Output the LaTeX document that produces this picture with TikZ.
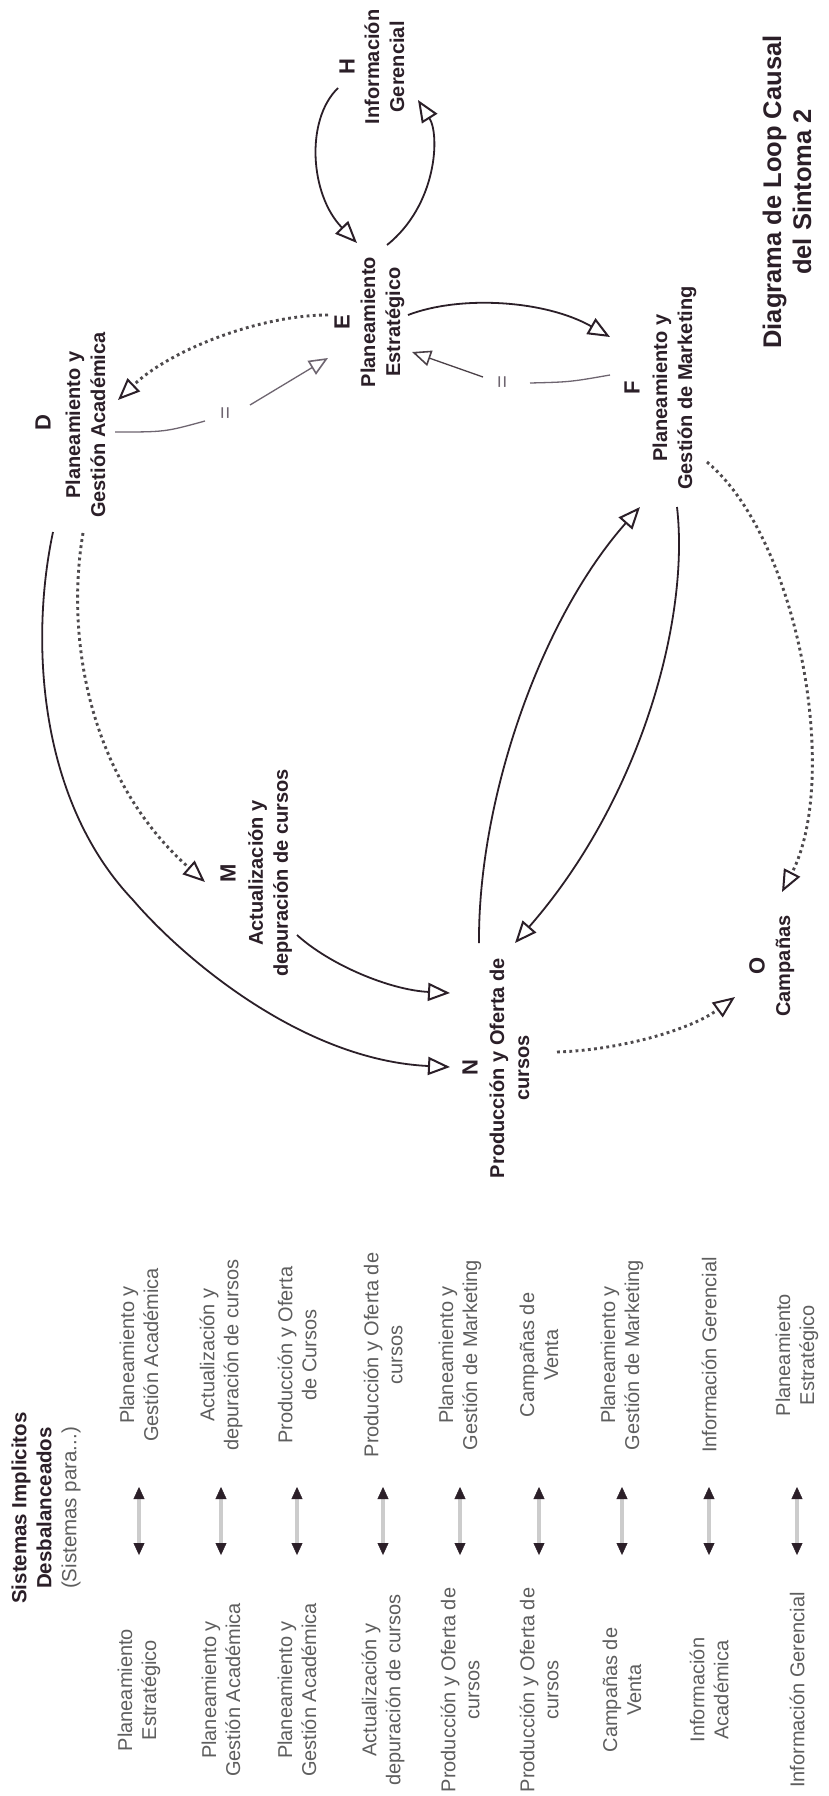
\documentclass[tikz,border=0pt]{standalone}
\usepackage{fontspec}
\setmainfont{Liberation Sans}
\usetikzlibrary{arrows.meta,calc}
\definecolor{ink}{HTML}{2B1F28}
\definecolor{tabgray}{HTML}{5E5E5E}
\definecolor{dotgray}{HTML}{4E4A4D}
\definecolor{thingray}{HTML}{6E6570}
\begin{document}
\begin{tikzpicture}[x=1pt,y=-1pt,
  lbl/.style={rotate=90,align=center,text=ink,inner sep=0pt,font=\fontsize{20}{25}\selectfont\bfseries},
  ltr/.style={rotate=90,text=ink,inner sep=0pt,font=\fontsize{22}{25}\selectfont\bfseries},
  tab/.style={rotate=90,align=center,text=tabgray,inner sep=0pt,font=\fontsize{20}{24}\selectfont},
  opentip/.style={-{Triangle[open,length=22pt,width=18pt,line width=2pt,color=ink]}},
  link/.style={draw=ink,line width=1.8pt,opentip},
  delay/.style={draw=thingray,line width=1.3pt},
  delayarr/.style={delay,-{Triangle[open,length=19pt,width=16pt,line width=1.6pt]}},
  dots/.style={draw=dotgray,line width=2.9pt,dash pattern=on 2.8pt off 3.4pt,opentip},
  delaymark/.style={rotate=90,text=thingray,inner sep=0pt,font=\fontsize{22}{22}\selectfont},
  twoway/.style={draw=gray!40,line width=3.2pt,
    {Triangle[length=12pt,width=11pt,color=ink,line width=0.4pt]}-{Triangle[length=12pt,width=11pt,color=ink,line width=0.4pt]}}
]
% canvas
\fill[white] (0,0) rectangle (829,1796);
\path[use as bounding box] (0,0) rectangle (829,1796);

% title
\node[rotate=90,align=center,text=ink,inner sep=0pt,font=\fontsize{25.5}{30}\selectfont\bfseries]
  (title) at (787,192) {Diagrama de Loop Causal\\del Sintoma 2};

% variables of the causal loop
\node[ltr] (Hk) at (347,67) {H};
\node[lbl] (H) at (384.5,67) {Información\\Gerencial};
\node[ltr] (Ek) at (342,322) {E};
\node[lbl] (E) at (382.5,322) {Planeamiento\\Estratégico};
\node[ltr] (Dk) at (43,423) {D};
\node[lbl] (D) at (85.5,425) {Planeamiento y\\Gestión Académica};
\node[ltr] (Fk) at (632,388) {F};
\node[lbl] (F) at (674.5,388) {Planeamiento y\\Gestión de Marketing};
\node[ltr] (Mk) at (228,873) {M};
\node[lbl] (M) at (270,873) {Actualización y\\depuración de cursos};
\node[ltr] (Nk) at (470,1068) {N};
\node[lbl] (N) at (509.5,1068) {Producción y Oferta de\\cursos};
\node[ltr] (Ok) at (757,966) {O};
\node[lbl] (O) at (785,966) {Campañas};

% delay marks
\node[delaymark] (m1) at (227,413) {=};
\node[delaymark] (m2) at (504,382) {=};

% causal links
\draw[link] ($(H)+(-46.5,21)$) .. controls (305,120) and (310,195) .. ($(E)+(-25.5,-79)$);
\draw[link] ($(E)+(4.5,-77)$) .. controls (437,205) and (440,135) .. ($(H)+(33.5,33)$);
\draw[dots] ($(E)+(-54.5,-7)$) .. controls (260,315) and (170,350) .. ($(D)+(32.5,-25)$);
\draw[delay] ($(D)+(29.5,7)$) .. controls (165,432) .. ($(m1)+(-22,8)$);
\draw[delayarr] ($(m1)+(23,-8)$) -- ($(E)+(-54.5,36)$);
\draw[link] ($(E)+(25.5,-7)$) .. controls (460,295) and (545,300) .. ($(F)+(-64.5,-51)$);
\draw[delay] ($(F)+(-64.5,-13)$) .. controls (570,382) .. ($(m2)+(26,1)$);
\draw[delayarr,draw=ink!85] ($(m2)+(-21,-5)$) -- ($(E)+(29.5,30)$);
\draw[link] ($(D)+(-32.5,107)$) .. controls (30,640) and (38,800) .. (133,900)
  .. controls (180,955) and (300,1060) .. ($(N)+(-59.5,-1)$);
\draw[dots] ($(D)+(-2.5,108)$) .. controls (65,640) and (90,780) .. ($(M)+(-65,9)$);
\draw[link] ($(M)+(27,62)$) .. controls (330,965) and (390,990) .. ($(N)+(-59.5,-75)$);
\draw[link] ($(N)+(-30.5,-125)$) .. controls (478,800) and (540,620) .. ($(F)+(-34.5,119)$);
\draw[link] ($(F)+(2.5,119)$) .. controls (690,620) and (640,800) .. ($(N)+(5.5,-125)$);
\draw[dots] ($(F)+(32.5,74)$) .. controls (800,540) and (840,780) .. ($(O)+(-3,-74)$);
\draw[dots] ($(N)+(47.5,-16)$) .. controls (620,1050) and (690,1030) .. ($(O)+(-50,31)$);

% table of unbalanced implicit systems
\node[rotate=90,align=center,inner sep=0pt,text=ink,font=\fontsize{20.5}{25}\selectfont]
  (head) at (46,1508) {\textbf{Sistemas Implicitos}\\\textbf{Desbalanceados}\\\textcolor{tabgray}{(Sistemas para...)}};

\foreach \i/\x/\lt/\rt in {
  1/139/{Planeamiento\\Estratégico}/{Planeamiento y\\Gestión Académica},
  2/221/{Planeamiento y\\Gestión Académica}/{Actualización y\\depuración de cursos},
  3/297/{Planeamiento y\\Gestión Académica}/{Producción y Oferta\\de Cursos},
  4/383/{Actualización y\\depuración de cursos}/{Producción y Oferta de\\cursos},
  5/460/{Producción y Oferta de\\cursos}/{Planeamiento y\\Gestión de Marketing},
  6/539/{Producción y Oferta de\\cursos}/{Campañas de\\Venta},
  7/622/{Campañas de\\Venta}/{Planeamiento y\\Gestión de Marketing},
  8/709/{Información\\Académica}/{Información Gerencial},
  9/797/{Información Gerencial}/{Planeamiento\\Estratégico}} {
  \node[tab] (L\i) at (\x,1690) {\lt};
  \node[tab] (R\i) at (\x,1355) {\rt};
  \coordinate (a\i) at (\x,1555);
  \coordinate (b\i) at (\x,1487);
  \draw[twoway] (a\i) -- (b\i);
}
\end{tikzpicture}
\end{document}
